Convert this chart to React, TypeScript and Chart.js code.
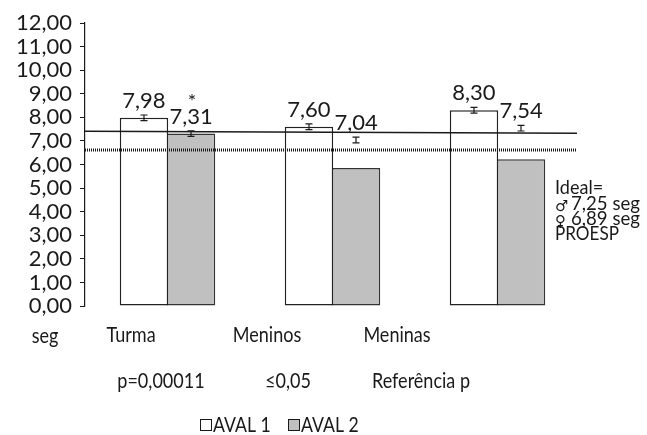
import React, { useEffect, useRef } from "react";
import { Chart, registerables } from "chart.js";

Chart.register(...registerables);

// Grupos e avaliações
const categories = ["Turma", "Meninos", "Meninas"];
const aval1Values = [7.98, 7.6, 8.3];
const aval2Bars = [7.31, 5.85, 6.22];
// Médias (rótulos e marcadores de erro)
const aval1Means = [7.98, 7.6, 8.3];
const aval2Means = [7.31, 7.04, 7.54];
const errorHalf = 0.12;
// Linha de tendência (início, fim) e linha pontilhada de referência
const trendLine = [7.41, 7.32];
const idealLine = 6.62;
const yMin = 0;
const yMax = 12;
const yStep = 1;
const seriesNames = ["AVAL 1", "AVAL 2"];
const axisUnit = "seg";
const pValues = ["p=0,00011", "≤0,05", "Referência p"];
const idealLines = ["Ideal=", "7,25", "6,89", "PROESP"];

const FONT = "Lato, 'DejaVu Sans', sans-serif";
const INK = "#1a1a1a";
const GREY = "#c0c0c0";

const fmt = (v: number) => v.toFixed(2).replace(".", ",");

// texto com compressão horizontal
function drawText(
  ctx: CanvasRenderingContext2D,
  text: string,
  x: number,
  y: number,
  size: number,
  align: CanvasTextAlign,
  sx = 1,
  family = FONT
) {
  ctx.save();
  ctx.translate(x, y);
  ctx.scale(sx, 1);
  ctx.font = `${size}px ${family}`;
  ctx.textAlign = align;
  ctx.textBaseline = "alphabetic";
  ctx.fillStyle = INK;
  ctx.fillText(text, 0, 0);
  ctx.restore();
}

const overlay = {
  id: "overlay",
  afterDatasetsDraw(chart: any) {
    const { ctx, chartArea } = chart;
    const y = chart.scales.y;
    const L = chartArea.left;
    const R = chartArea.right;

    ctx.save();
    // linha de tendência
    ctx.strokeStyle = INK;
    ctx.lineWidth = 1.5;
    ctx.beginPath();
    ctx.moveTo(L, y.getPixelForValue(trendLine[0]));
    ctx.lineTo(R - 3, y.getPixelForValue(trendLine[1]));
    ctx.stroke();
    // linha pontilhada
    ctx.setLineDash([1, 1]);
    ctx.lineWidth = 3;
    ctx.beginPath();
    const yi = y.getPixelForValue(idealLine);
    ctx.moveTo(L, yi);
    ctx.lineTo(R - 3, yi);
    ctx.stroke();
    ctx.setLineDash([]);

    // barras de erro e rótulos
    const means = [aval1Means, aval2Means];
    means.forEach((arr, di) => {
      const meta = chart.getDatasetMeta(di);
      arr.forEach((m: number, i: number) => {
        const x = meta.data[i].x;
        const yt = y.getPixelForValue(m + errorHalf);
        const yb = y.getPixelForValue(m - errorHalf);
        ctx.strokeStyle = INK;
        ctx.lineWidth = 1.2;
        ctx.beginPath();
        ctx.moveTo(x, yt);
        ctx.lineTo(x, yb);
        ctx.moveTo(x - 3.5, yt);
        ctx.lineTo(x + 3.5, yt);
        ctx.moveTo(x - 3.5, yb);
        ctx.lineTo(x + 3.5, yb);
        ctx.stroke();

        const ly = y.getPixelForValue(m) - 10;
        drawText(ctx, fmt(m), x, ly, 22, "center");
        if (di === 1 && i === 0) {
          drawText(ctx, "*", x + 1, ly - 16, 20, "center");
        }
      });
    });

    // rótulos inferiores
    drawText(ctx, axisUnit, 45, 343, 22, "center", 0.82);
    const colX = [131, 267, 397];
    categories.forEach((c, i) => drawText(ctx, c, colX[i], 342, 22, "center", 0.82));
    const pX = [161, 288, 421];
    pValues.forEach((p, i) => drawText(ctx, p, pX[i], 388, 22, "center", 0.82));

    // legenda
    const ly = 425;
    ctx.lineWidth = 1;
    ctx.strokeStyle = INK;
    ctx.fillStyle = "#ffffff";
    ctx.fillRect(200.5, ly - 5.5, 11, 11);
    ctx.strokeRect(200.5, ly - 5.5, 11, 11);
    ctx.fillStyle = GREY;
    ctx.fillRect(288.5, ly - 5.5, 11, 11);
    ctx.strokeRect(288.5, ly - 5.5, 11, 11);
    drawText(ctx, seriesNames[0], 213, 432, 21, "left", 0.84);
    drawText(ctx, seriesNames[1], 301, 432, 21, "left", 0.84);

    // nota lateral
    drawText(ctx, idealLines[0], 555, 194, 19, "left", 0.95);
    drawText(ctx, "♂", 555, 211, 15, "left", 1, "'DejaVu Sans', sans-serif");
    drawText(ctx, "♀", 555, 226, 15, "left", 1, "'DejaVu Sans', sans-serif");
    drawText(ctx, idealLines[1] + " seg", 571, 210, 19, "left", 0.98);
    drawText(ctx, idealLines[2] + " seg", 571, 225, 19, "left", 0.98);
    drawText(ctx, idealLines[3], 555, 240, 19, "left", 0.9);
    ctx.restore();
  },
};

export default function App() {
  const ref = useRef<HTMLCanvasElement | null>(null);

  useEffect(() => {
    document.body.style.margin = "0";
    const canvas = ref.current;
    if (!canvas) return;
    const chart = new Chart(canvas, {
      type: "bar",
      data: {
        labels: categories,
        datasets: [
          {
            label: seriesNames[0],
            data: aval1Values,
            backgroundColor: "#ffffff",
            borderColor: "#222222",
            borderWidth: 1.5,
            borderSkipped: false,
            categoryPercentage: 0.57,
            barPercentage: 1.03,
          },
          {
            label: seriesNames[1],
            data: aval2Bars,
            backgroundColor: GREY,
            borderColor: "#333333",
            borderWidth: 1.5,
            borderSkipped: false,
            categoryPercentage: 0.57,
            barPercentage: 1.03,
          },
        ],
      },
      options: {
        responsive: false,
        animation: false,
        events: [],
        layout: { padding: { left: 0, top: 23, right: 67, bottom: 129 } },
        plugins: { legend: { display: false }, tooltip: { enabled: false } },
        scales: {
          x: { display: false },
          y: {
            min: yMin,
            max: yMax,
            afterFit: (s: any) => {
              s.width = 85;
            },
            border: { display: true, color: INK, width: 1.2 },
            grid: {
              drawOnChartArea: false,
              drawTicks: true,
              tickLength: 5,
              color: INK,
            },
            ticks: {
              stepSize: yStep,
              autoSkip: false,
              padding: 8,
              color: INK,
              font: { family: FONT, size: 22 },
              callback: (v: any) => fmt(Number(v)),
            },
          },
        },
      },
      plugins: [overlay],
    });
    return () => chart.destroy();
  }, []);

  return (
    <div style={{ width: 647, height: 435, background: "#fff" }}>
      <canvas ref={ref} width={647} height={435} />
    </div>
  );
}
